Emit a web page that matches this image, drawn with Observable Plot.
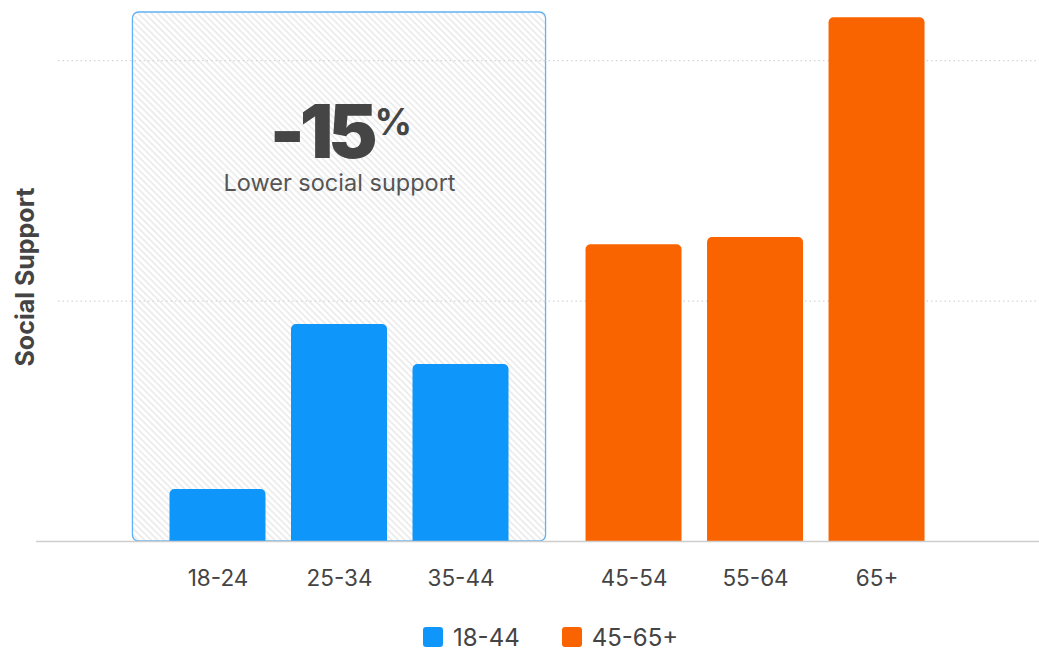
<!DOCTYPE html>
<html>
<head>
<meta charset="utf-8">
<script src="https://cdn.jsdelivr.net/npm/d3@7"></script>
<script src="https://cdn.jsdelivr.net/npm/@observablehq/plot@0.6"></script>
<style>
  html, body { margin: 0; padding: 0; background: #fff; }
  body { width: 1039px; height: 651px; overflow: hidden; font-family: Inter, "Noto Sans", sans-serif; }
  #legend { display: flex; align-items: center; margin-top: 27px; padding-left: 423px; height: 20px; }
  .item { display: flex; align-items: center; margin-right: 42px; font-size: 24px; color: #444; }
  .sw { width: 20px; height: 20px; border-radius: 3px; margin-right: 10px; }
</style>
</head>
<body>
<div id="chart"></div>
<div id="legend"></div>
<script>
// ---- data ----
const categories = ["18-24", "25-34", "35-44", "45-54", "55-64", "65+"];
const values = [10.8, 45.1, 36.8, 61.7, 63.2, 108.9];
const groups = ["18-44", "18-44", "18-44", "45-65+", "45-65+", "45-65+"];
const groupNames = ["18-44", "45-65+"];
const groupColors = ["#0f96fb", "#fa6400"];
const gridTicks = [50, 100];
const highlightGroup = "18-44";
const highlightValue = "-15";
const highlightUnit = "%";
const highlightLabel = "Lower social support";
const yLabel = "Social Support";

// ---- layout helpers ----
const GROUP_GAP = 0.424;
const yMax = 110;
const data = categories.map((c, i) => ({
  category: c,
  value: values[i],
  group: groups[i],
  pos: i + groupNames.indexOf(groups[i]) * GROUP_GAP
}));
const half = 0.395;
const hl = data.filter(d => d.group === highlightGroup);
const boxData = [{x1: d3.min(hl, d => d.pos) - 0.7, x2: d3.max(hl, d => d.pos) + 0.7}];
const hlCenter = (boxData[0].x1 + boxData[0].x2) / 2;

const defs = () => {
  const g = document.createElementNS("http://www.w3.org/2000/svg", "defs");
  g.innerHTML = `<pattern id="hatch" patternUnits="userSpaceOnUse" width="4.6" height="4.6" patternTransform="rotate(-45)">
      <line x1="1" y1="0" x2="1" y2="4.6" stroke="#e0e0e0" stroke-width="1.1"/></pattern>`;
  return g;
};

const plot = Plot.plot({
  width: 1039,
  height: 600,
  marginLeft: 0,
  marginRight: 0,
  marginTop: 12,
  marginBottom: 59,
  style: {fontFamily: "Inter, 'Noto Sans', sans-serif", background: "#fff"},
  x: {type: "linear", domain: [-1.79, 6.761], axis: null},
  y: {domain: [0, yMax], axis: null},
  color: {domain: groupNames, range: groupColors},
  marks: [
    defs,
    Plot.rectY(boxData, {x1: "x1", x2: "x2", y1: 0, y2: yMax, fill: "url(#hatch)", stroke: "#5fb2f5", strokeWidth: 1.3, rx: 6}),
    Plot.ruleY(gridTicks, {stroke: "#d6d6d6", strokeDasharray: "1.5,3", strokeWidth: 1.2, insetLeft: 58}),
    Plot.rectY(data, {x1: d => d.pos - half, x2: d => d.pos + half, y1: 0, y2: "value", fill: "group", rx: 5, insetBottom: -10, clip: true}),
    Plot.ruleY([0], {stroke: "#cdcdcd", strokeWidth: 1.6, insetLeft: 36}),
    Plot.text(data, {x: "pos", y: 0, text: "category", dy: 37, fontSize: 22.5, fill: "#444"}),
    Plot.text([highlightValue], {x: () => hlCenter, frameAnchor: "top", lineAnchor: "middle", text: d => d, dy: 122, dx: 33, textAnchor: "end", fontSize: 74, fontWeight: 900, fill: "#454545"}),
    Plot.text([highlightUnit], {x: () => hlCenter, frameAnchor: "top", lineAnchor: "middle", text: d => d, dy: 111, dx: 35, textAnchor: "start", fontSize: 37, fontWeight: 700, fill: "#454545"}),
    Plot.text([highlightLabel], {x: () => hlCenter, frameAnchor: "top", lineAnchor: "middle", text: d => d, dy: 170.5, fontSize: 23.5, fill: "#555"}),
    Plot.text([yLabel], {frameAnchor: "left", textAnchor: "middle", lineAnchor: "middle", text: d => d, dx: 25, rotate: -90, fontSize: 25, fontWeight: 700, fill: "#444"})
  ]
});
// tighten the big headline figure
d3.select(plot).selectAll("text").filter(function() { return this.textContent === highlightValue; })
  .style("letter-spacing", "-5px");
document.getElementById("chart").appendChild(plot);

const legend = document.getElementById("legend");
groupNames.forEach((g, i) => {
  const item = document.createElement("div");
  item.className = "item";
  item.innerHTML = `<div class="sw" style="background:${groupColors[i]}"></div><span>${g}</span>`;
  legend.appendChild(item);
});
</script>
</body>
</html>
